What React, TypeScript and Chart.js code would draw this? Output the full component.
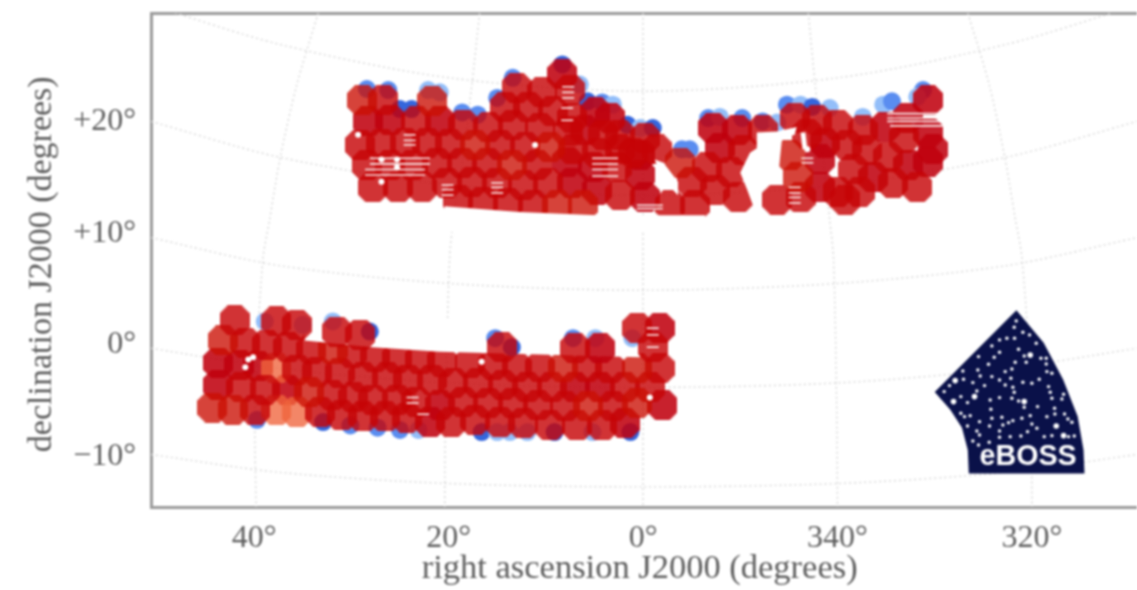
import React, { useEffect, useRef } from "react";
import { Chart, registerables } from "chart.js";

Chart.register(...registerables);

const raTicks = [40, 20, 0, -20, -40];
const decTicks = [20, 10, 0, -10];

// Graticule, in degrees
const parallelRa = [50.6, 37.4, 19.9, 0, -20, -37.4, -50.8];
const parallelDecs = [
  [30.4, 26.9, 23.9, 22.7, 23.9, 26.9, 30.4],
  [20.0, 16.8, 14.3, 13.4, 14.3, 16.8, 20.0],
  [9.6, 7.1, 5.5, 4.9, 5.5, 7.1, 9.6],
  [-0.3, -2.1, -3.4, -3.8, -3.4, -2.1, -0.3],
  [-9.8, -11.4, -12.4, -12.7, -12.4, -11.4, -9.8],
];
const meridianDec = [29.7, 23.3, 16.8, 11.2, 7.6, -4.9, -14.5];
const meridianRas = [
  [33.4, 35.6, 37.3, 38.4, 39.1, 39.9, 39.8],
  [16.8, 17.6, 18.5, 19.5, 19.9, 20.3, 20.4],
  [0, 0, 0, 0, 0, 0, 0],
  [-17, -17.7, -18.5, -19.2, -19.6, -19.9, -20],
  [-33.4, -35.6, -37.2, -38.3, -39, -39.9, -40],
];

// Tiles: [ra, dec] + shade: 0 mid, 1 light, 2 dark, 3 orange
const northRa = [28.9,26.7,21.7,28.3,26.0,23.3,20.9,18.5,15.9,13.4,10.6,7.7,13.0,10.4,8.3,7.5,14.2,11.8,9.3,4.9,3.4,2.4,-0.2,1.0,29.1,26.9,24.5,22.2,19.9,17.3,14.7,12.1,9.6,7.2,4.7,28.4,26.0,23.7,21.2,18.6,16.0,13.5,10.9,7.8,5.1,2.7,0.3,27.8,25.2,22.7,20.2,17.6,15.0,12.3,9.8,7.3,4.7,2.4,-0.2,19.0,16.5,13.9,11.3,8.8,6.2,-3.8,-6.6,-9.0,-5.0,-7.4,-9.8,-2.8,-5.3,-7.2,-9.7,-7.9,-10.3,-15.6,-17.9,-20.0,-16.9,-18.7,-21.0,-23.0,-24.9,-26.8,-29.3,-29.3,-27.2,-25.2,-27.3,-29.3,-21.6,-23.7,-25.7,-28.2,-20.0,-22.3,-15.9,-15.1,-13.8,-16.2,-18.2,-18.2,-12.3,-22.6,-29.8,-1.4,6.0,4.1,0.3,2.4,-20.8,7.3];
const northDec = [21.9,21.9,21.8,20.0,20.1,20.0,20.0,19.7,19.5,19.7,19.4,19.1,23.0,22.6,24.2,22.8,21.3,21.3,20.9,20.8,20.3,18.8,18.5,17.2,17.9,18.0,18.1,18.1,18.0,17.9,17.9,17.7,17.7,17.5,17.2,16.1,16.1,16.1,16.3,16.3,16.3,16.1,16.1,16.4,15.9,15.9,15.2,14.1,14.1,14.1,14.5,14.6,14.5,14.3,14.5,14.5,13.9,13.4,13.2,13.0,12.8,12.7,12.5,12.5,12.5,16.3,15.9,15.5,14.6,13.9,13.2,12.5,12.5,19.4,19.2,17.6,17.4,20.3,20.1,19.7,18.9,18.1,17.9,17.4,19.5,18.5,19.0,21.9,20.3,16.8,16.1,16.4,15.7,15.0,14.5,14.1,13.7,13.7,15.0,17.0,13.0,13.2,14.1,16.6,19.2,19.2,17.5,17.5,19.2,18.8,17.0,17.5,13.0,20.3];
const northShade = [1,0,1,2,2,0,2,0,0,0,0,0,0,0,2,0,0,0,0,2,2,0,0,0,0,0,0,0,0,1,0,0,1,0,0,0,0,0,0,0,0,1,0,2,2,0,2,0,0,0,0,0,0,0,0,2,2,0,2,0,0,0,0,1,1,1,0,0,0,0,0,0,0,2,2,2,0,0,0,0,0,2,0,0,2,0,2,2,2,0,2,2,0,2,0,0,0,0,1,1,0,0,2,2,0,0,2,0,2,0,2,0,0,0];

const southRa = [37.7,35.6,37.7,34.3,43.2,40.9,38.7,36.5,34.1,31.9,29.9,27.6,25.3,22.9,20.7,43.7,41.5,39.6,35.6,33.5,31.2,28.8,26.3,24.2,21.7,43.7,41.3,38.9,36.6,32.0,29.8,27.8,25.3,23.3,20.9,44.3,42.2,39.9,33.2,31.0,28.8,26.5,24.3,21.9,17.8,15.4,13.0,10.6,8.2,5.8,3.4,0.6,-1.7,19.5,17.0,14.4,11.9,9.4,7.0,4.4,1.9,-0.7,18.5,15.9,13.4,10.8,8.0,5.7,3.1,0.6,-2.0,19.7,17.3,14.7,12.3,9.6,6.8,4.2,1.9];
const southDec = [-5.8,-6.0,-2.1,-4.2,0.4,0.2,0.0,-0.2,-0.4,-0.4,-0.7,-1.1,-1.2,-1.3,-1.5,-1.6,-1.8,-1.9,-2.2,-2.4,-2.5,-2.9,-2.9,-3.1,-3.1,-3.6,-3.8,-4.0,-4.0,-4.5,-4.7,-4.9,-4.9,-5.1,-5.4,-5.6,-5.8,-5.8,-6.0,-6.3,-6.4,-6.4,-6.5,-6.9,-1.6,-1.8,-2.0,-2.0,-2.0,-2.0,-2.1,-2.1,-2.1,-3.4,-3.4,-3.6,-3.8,-3.8,-3.8,-3.8,-3.8,-3.8,-5.1,-5.2,-5.2,-5.4,-5.5,-5.5,-5.5,-5.2,-5.4,-6.9,-6.7,-6.9,-7.0,-7.2,-7.2,-7.2,-7.0];
const southShade = [3,3,3,1,1,0,0,0,0,1,0,0,0,0,0,2,2,2,0,0,0,0,0,0,0,2,0,0,2,0,0,0,0,0,2,1,1,0,0,0,0,0,0,2,0,0,0,0,1,0,0,1,0,0,0,0,0,0,2,2,0,0,0,0,0,0,0,1,0,1,2,0,0,0,0,0,0,0,2];

const southTopRa = [42.0,37.7,35.6,31.5,29.1,14.5,7.0,4.4,0.6,-1.7,-1.0];
const southTopDec = [2.2,2.1,1.8,1.2,0.9,-0.2,-0.3,-0.3,1.5,1.5,-0.2];
const southTopShade = [0,0,0,0,0,0,0,2,0,2,0];

// Blue rim tiles; shade 0 deep, 1 mid, 2 pale
const blueRa = [28.4,26.2,25.0,23.8,22.1,20.9,18.6,17.0,15.0,13.4,8.3,6.5,5.7,4.2,3.1,1.6,0.3,-1.0,-4.0,-4.8,-6.7,-7.9,-10.2,-12.3,-13.8,-14.8,-16.2,-17.4,-19.2,-22.6,-24.7,-25.6,-28.8,-28.2,39.7,32.9,30.1,27.3,25.0,23.1,16.6,15.0,13.7,11.9,9.1,5.2,1.3];
const blueDec = [22.9,22.8,21.1,21.1,22.8,22.6,20.8,20.6,22.1,23.9,25.1,23.3,21.8,21.7,21.5,19.7,19.4,19.4,17.5,17.5,20.3,20.4,20.3,20.0,19.9,21.5,21.5,21.3,21.2,20.4,21.5,21.8,22.8,22.2,-6.7,-6.9,-7.2,-7.4,-7.6,-7.6,-7.8,-7.8,-7.8,-7.8,-7.8,-7.8,-7.8];
const blueShade = [1,1,0,0,2,2,1,1,1,1,0,2,0,1,2,0,2,0,1,1,1,2,1,1,2,1,2,0,2,2,2,1,1,2,1,0,1,1,1,2,0,2,2,2,0,2,0];
const blueTopRa = [35.0,38.9,31.9,28.1,15.2,13.5,7.2,4.9,1.1];
const blueTopDec = [1.8,2.1,2.1,1.2,0.6,-0.2,0.6,0.6,0.6];
const blueTopShade = [2,2,2,0,1,0,1,2,2];

// Survey boundaries and holes
const northEdgeRa = [20.4,12.7,4.7,-6.4,-6.4,20.4,20.4];
const northEdgeDec = [12.4,11.9,11.6,11.6,10.1,10.1,12.4];
const southEdgeRa = [34.8,27.8,20.9,0.3,0.3,34.8,34.8];
const southEdgeDec = [0.4,-0.2,-0.6,-1.1,2.2,2.2,0.4];
const gapARa = [-11.7,-13.8,-15.8,-15.6,-14.3,-14.1,-13.9,-12.9,-12.3,-11.8,-11.3,-10.7,-10.0,-11.0,-11.7,-11.7];
const gapADec = [19.0,19.1,19.5,18.8,18.5,16.8,15.0,14.3,13.9,12.5,12.5,13.9,15.4,17.2,17.6,19.0];
const gapBRa = [-1.2,-2.1,-3.6,-3.6,-2.8,-1.7,-1.2];
const gapBDec = [16.6,16.3,14.6,13.4,14.1,15.5,16.6];
const gapCRa = [-16.2,-16.7,-16.9,-16.4,-16.2];
const gapCDec = [19.0,19.0,17.5,17.5,19.0];

const holeRa = [29.3,11.1,26.9,26.9,25.3,25.3,40.9,40.6,40.1,16.6,-0.7,-16.9];
const holeDec = [18.8,17.9,14.6,16.6,16.6,15.9,-2.0,-1.3,-1.1,-1.5,-4.7,17.5];

const longStripeRa = [25.0,25.0,25.5,25.5,-28.2,-28.2,-28.2,-28.5];
const longStripeDec = [16.7,16.2,15.7,15.2,20.7,20.3,20.0,19.6];
const midStripeRa = [3.9,3.9,3.9,3.9,-0.7,-0.7];
const midStripeDec = [16.7,16.2,15.7,15.1,12.5,12.2];
const shortStripeRa = [7.7,7.7,7.7,7.8,7.8,24.0,24.0,24.0,20.1,20.1,20.1,15.0,15.0,15.0,-15.6,-15.6,-15.6,-15.6,-16.9,-16.9,-1.0,-1.0,-1.0,23.7,23.7,22.6];
const shortStripeDec = [23.1,22.6,22.1,21.2,20.1,18.8,18.3,17.9,14.3,13.9,13.4,14.5,14.1,13.6,14.1,13.6,13.2,12.7,16.7,16.3,1.5,0.9,-0.2,-4.7,-5.2,-6.2];

// eBOSS badge
const badgeRa = [-38.4,-30.0,-31.6,-32.8,-33.4,-33.5,-45.4,-45.3,-44.7,-43.2,-41.2,-38.4];
const badgeDec = [3.1,-4.2,-5.8,-7.4,-9.4,-11.5,-11.5,-9.4,-6.4,-3.1,0.2,3.1];
const badgeStarU = [288,282,283,308,328,348,238,260,215,295,312,238,222,175,205,285,318,362,378,378,380,395,275,255,128,173,215,180,130,88,158,238,255,272,308,335,357,385,390,430,425,395,72,122,142,170,193,278,282,238,275,295,312,352,210,212,403,404,433,380,330,305,443,455,245,215,122,150,133,142,178,208,278,265,248,350,335,322,302,270,238,238,170,178,158,175,372,395,445,462,207];
const badgeStarV = [63,82,115,97,105,130,120,115,138,148,168,157,172,170,193,187,187,175,175,192,215,220,207,215,213,210,230,228,238,257,248,240,255,235,247,250,238,260,277,283,297,295,275,290,308,273,257,262,277,293,295,303,322,320,300,328,325,342,342,350,347,355,357,367,352,355,340,347,350,378,365,378,362,368,375,385,372,395,408,410,412,393,393,405,423,435,410,407,410,408,427];
const badgeBigU = [330,105,100,163,312,408,430];
const badgeBigV = [165,242,305,290,305,378,407];
const badgeWord = "eBOSS";
const badgeWordAt = { ra: -39.6, dec: -10.76 };

const zip = (xs: number[], ys: number[]) => xs.map((x, i) => ({ x, y: ys[i] }));
const badgeLocal = (u: number[], v: number[]) =>
  u.map((a, i) => ({ x: -28.5 - a * 0.0343, y: 4.03 - v[i] * 0.02984 }));

const tileColors = [
  "rgba(198,4,6,0.81)",
  "rgba(202,14,2,0.78)",
  "rgba(192,0,14,0.87)",
  "rgba(240,100,60,0.78)",
];
const drawRank = [2, 3, 0, 1]; // paint order per shade: orange, dark, mid, light
const blueColors = ["#3566dc", "#5a8df0", "#93bef9"];

const tileSprite = (color: string) => {
  const half = 15;
  const cut = 8;
  const c = document.createElement("canvas");
  c.width = c.height = half * 2;
  const g = c.getContext("2d")!;
  g.fillStyle = color;
  g.beginPath();
  g.moveTo(cut, 0);
  g.lineTo(2 * half - cut, 0);
  g.lineTo(2 * half, cut);
  g.lineTo(2 * half, 2 * half - cut);
  g.lineTo(2 * half - cut, 2 * half);
  g.lineTo(cut, 2 * half);
  g.lineTo(0, 2 * half - cut);
  g.lineTo(0, cut);
  g.closePath();
  g.fill();
  return c;
};

const fmtRa = (v: number) => `${v < 0 ? 360 + v : v}°`;
const fmtDec = (v: number) => (v > 0 ? `+${v}°` : v < 0 ? `\u2212${-v}°` : "0°");

const graticule = (data: { x: number; y: number }[]) => ({
  type: "line" as const,
  data,
  borderColor: "#d6d6d6",
  borderWidth: 1.4,
  borderDash: [2, 3],
  pointRadius: 0,
  tension: 0.3,
  fill: false,
});
const area = (data: { x: number; y: number }[], color: string) => ({
  type: "line" as const,
  data,
  borderColor: color,
  backgroundColor: color,
  borderWidth: 0,
  pointRadius: 0,
  tension: 0,
  fill: "shape",
});
const tiles = (data: { x: number; y: number }[], shade: number[], sprites: HTMLCanvasElement[]) => {
  const idx = data.map((_, i) => i).sort((a, b) => drawRank[shade[a]] - drawRank[shade[b]]);
  return {
    type: "scatter" as const,
    data: idx.map((i) => data[i]),
    pointRadius: 15,
    pointBorderWidth: 0,
    pointStyle: (ctx: any) => sprites[shade[idx[ctx.dataIndex]]],
  };
};
const rim = (data: { x: number; y: number }[], shade: number[]) => ({
  type: "scatter" as const,
  data,
  pointRadius: 9,
  pointBorderWidth: 0,
  pointBackgroundColor: shade.map((s) => blueColors[s]),
});
const dots = (data: { x: number; y: number }[], r: number) => ({
  type: "scatter" as const,
  data,
  pointRadius: r,
  pointBorderWidth: 0,
  pointBackgroundColor: "#ffffff",
});
const stripes = (data: { x: number; y: number }[], r: number) => ({
  type: "scatter" as const,
  data,
  pointStyle: "line",
  pointRadius: r,
  pointBorderWidth: 1.6,
  pointBorderColor: "rgba(255,255,255,0.9)",
});

const AXIS_FONT = "'Liberation Serif', serif";
const FRAME = "#9a9a9a";
const TEXT = "#5e5e5e";

const noPadding = (a: any) => {
  a.paddingLeft = 0;
  a.paddingRight = 0;
  a.paddingTop = 0;
  a.paddingBottom = 0;
};

export default function App() {
  const ref = useRef<HTMLCanvasElement>(null);
  useEffect(() => {
    const sprites = tileColors.map(tileSprite);
    const layers: any[] = [
      ...parallelDecs.map((d) => graticule(zip(parallelRa, d))),
      ...meridianRas.map((r) => graticule(zip(r, meridianDec))),
      rim(zip(blueRa, blueDec), blueShade),
      tiles(zip(northRa, northDec), northShade, sprites),
      tiles(zip(southRa, southDec), southShade, sprites),
      area(zip(northEdgeRa, northEdgeDec), "#ffffff"),
      area(zip(southEdgeRa, southEdgeDec), "#ffffff"),
      rim(zip(blueTopRa, blueTopDec), blueTopShade),
      tiles(zip(southTopRa, southTopDec), southTopShade, sprites),
      area(zip(gapARa, gapADec), "#ffffff"),
      area(zip(gapBRa, gapBDec), "#ffffff"),
      area(zip(gapCRa, gapCDec), "#ffffff"),
      dots(zip(holeRa, holeDec), 3),
      stripes(zip(longStripeRa, longStripeDec), 30),
      stripes(zip(midStripeRa, midStripeDec), 13),
      stripes(zip(shortStripeRa, shortStripeDec), 6),
      area(zip(badgeRa, badgeDec), "#0a1149"),
      dots(badgeLocal(badgeStarU, badgeStarV), 1.7),
      dots(badgeLocal(badgeBigU, badgeBigV), 2.8),
    ];
    const datasets = layers.map((l, i) => ({ ...l, order: layers.length - i }));
    const badgeText = {
      id: "badgeText",
      afterDatasetsDraw(chart: any) {
        const { ctx, scales } = chart;
        ctx.save();
        ctx.font = "bold 28.6px 'Liberation Sans', sans-serif";
        ctx.fillStyle = "#ffffff";
        ctx.textAlign = "center";
        ctx.textBaseline = "alphabetic";
        ctx.fillText(
          badgeWord,
          scales.x.getPixelForValue(badgeWordAt.ra),
          scales.y.getPixelForValue(badgeWordAt.dec)
        );
        ctx.restore();
      },
    };
    const chart = new Chart(ref.current!, {
      type: "scatter",
      data: { datasets },
      plugins: [badgeText],
      options: {
        animation: false,
        responsive: false,
        devicePixelRatio: 1,
        layout: { padding: 0, autoPadding: false },
        events: [],
        plugins: {
          legend: { display: false },
          tooltip: { enabled: false },
          filler: { drawTime: "beforeDatasetDraw" },
        },
        scales: {
          x: {
            type: "linear",
            reverse: true,
            min: -50.8,
            max: 50.6,
            position: "bottom",
            afterBuildTicks: (a: any) => {
              a.ticks = raTicks.map((value) => ({ value }));
            },
            afterFit: (a: any) => {
              a.height = 83;
              noPadding(a);
            },
            grid: { display: false },
            border: { display: true, color: FRAME, width: 3 },
            ticks: {
              callback: (v: any) => fmtRa(Number(v)),
              color: TEXT,
              font: { family: AXIS_FONT, size: 32 },
              padding: 4,
              autoSkip: false,
              maxRotation: 0,
            },
            title: {
              display: true,
              text: "right ascension J2000 (degrees) ",
              color: TEXT,
              font: { family: AXIS_FONT, size: 34.5 },
              padding: { top: -5, bottom: 0 },
            },
          },
          xTop: {
            type: "linear",
            position: "top",
            min: 0,
            max: 1,
            afterFit: (a: any) => {
              a.height = 13;
              noPadding(a);
            },
            grid: { display: false },
            border: { display: true, color: FRAME, width: 3 },
            ticks: { display: false },
          },
          y: {
            type: "linear",
            min: -14.5,
            max: 29.7,
            position: "left",
            afterBuildTicks: (a: any) => {
              a.ticks = decTicks.map((value) => ({ value }));
            },
            afterFit: (a: any) => {
              a.width = 151;
              noPadding(a);
            },
            grid: { display: false },
            border: { display: true, color: FRAME, width: 3 },
            ticks: {
              callback: (v: any) => fmtDec(Number(v)),
              color: TEXT,
              font: { family: AXIS_FONT, size: 32 },
              padding: 7,
              autoSkip: false,
            },
            title: {
              display: true,
              text: "declination J2000 (degrees) ",
              color: TEXT,
              font: { family: AXIS_FONT, size: 34 },
              padding: { top: 22, bottom: 0 },
            },
          },
        },
      } as any,
    });
    return () => chart.destroy();
  }, []);
  return (
    <div style={{ position: "absolute", left: 0, top: 0, width: 1137, height: 590, background: "#fff" }}>
      <canvas ref={ref} width={1137} height={590} style={{ display: "block", filter: "blur(1px)" }} />
    </div>
  );
}
